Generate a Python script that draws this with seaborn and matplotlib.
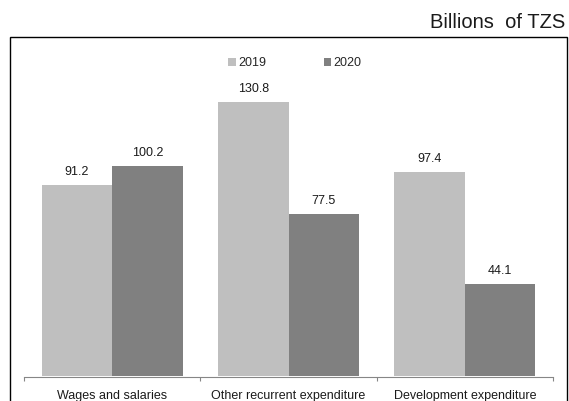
import matplotlib
matplotlib.use("Agg")
import matplotlib.pyplot as plt
import seaborn as sns
import pandas as pd
from matplotlib.patches import Rectangle

categories = ["Wages and salaries", "Other recurrent expenditure", "Development expenditure"]
years = ["2019", "2020"]
values_2019 = [91.2, 130.8, 97.4]
values_2020 = [100.2, 77.5, 44.1]
unit_label = "Billions  of TZS"

df = pd.DataFrame({
    "category": categories * 2,
    "year": [years[0]] * 3 + [years[1]] * 3,
    "value": values_2019 + values_2020,
})

sns.set_theme(style="white")
plt.rcParams["font.family"] = ["Liberation Sans", "DejaVu Sans"]

W, H = 569, 401
fig = plt.figure(figsize=(W / 100, H / 100), dpi=100)
ax = fig.add_axes([24 / W, (H - 376) / H, (553 - 24) / W, 314 / H])

sns.barplot(data=df, x="category", y="value", hue="year",
            palette=["#BFBFBF", "#808080"], saturation=1, width=0.8,
            linewidth=0, ax=ax, legend=True)

for cont in ax.containers:
    ax.bar_label(cont, fmt="%.1f", padding=5, fontsize=9, color="#1a1a1a")

ax.set_ylim(0, 150)
ax.set_xlim(-0.5, 2.5)
ax.set_xlabel("")
ax.set_ylabel("")
ax.set_yticks([])
for s in ["top", "left", "right"]:
    ax.spines[s].set_visible(False)
ax.spines["bottom"].set_color("#868686")
ax.spines["bottom"].set_linewidth(0.8)
ax.spines["bottom"].set_position(("outward", 1))

ax.set_xticks([0, 1, 2])
ax.set_xticklabels(categories, fontsize=9, color="#1a1a1a")
ax.tick_params(axis="x", which="major", length=0, pad=9)
ax.set_xticks([-0.5, 0.5, 1.5, 2.5], minor=True)
ax.tick_params(axis="x", which="minor", length=3, width=0.8, color="#868686",
               direction="out", bottom=True)

leg = ax.legend(loc="center", bbox_to_anchor=(295 / W, (H - 63) / H),
                bbox_transform=fig.transFigure, ncol=2, frameon=False,
                fontsize=9, handlelength=0.6, handleheight=0.6,
                handletextpad=0.2, columnspacing=4.6)

fig.text(565 / W, (H - 22) / H, unit_label, ha="right", va="center",
         fontsize=14.5, color="#1a1a1a")

fig.patches.append(Rectangle((10 / W, -0.05), (567 - 10) / W, 0.05 + (H - 37) / H,
                             transform=fig.transFigure, fill=False,
                             edgecolor="black", linewidth=1.0))

fig.savefig("out.png", dpi=100)
